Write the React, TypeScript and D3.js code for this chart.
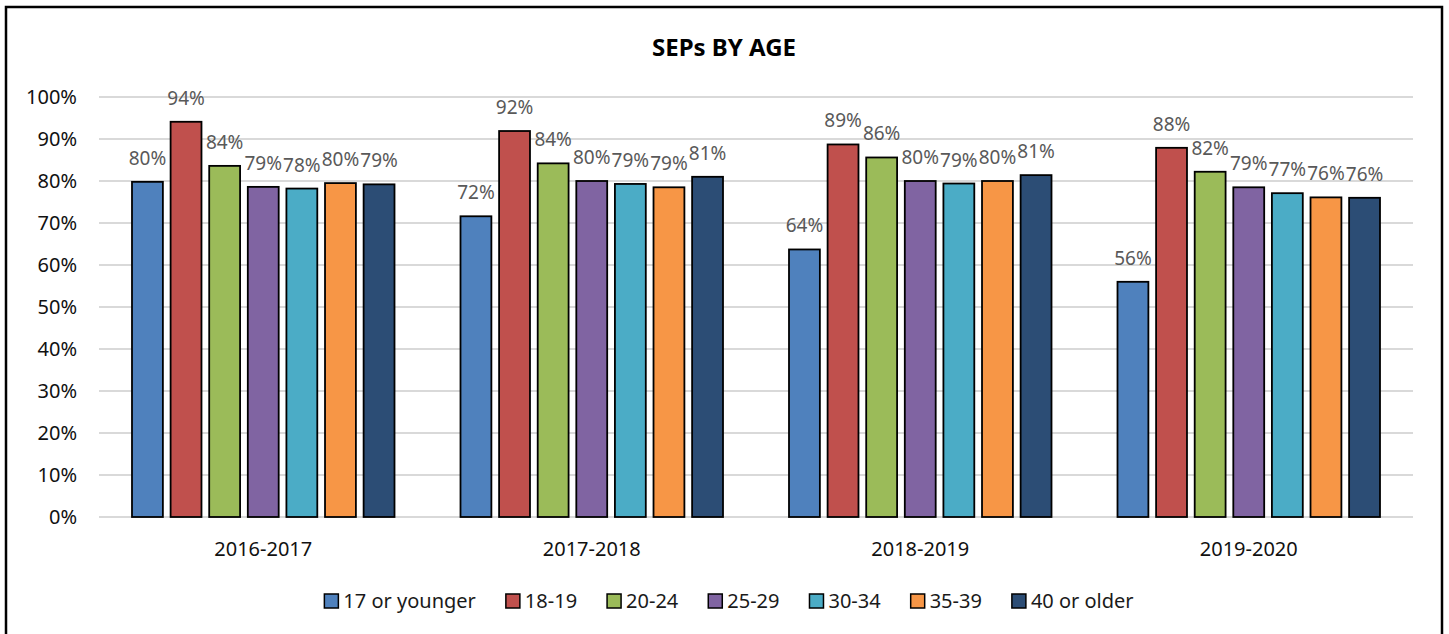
import React, { useEffect, useRef } from "react";
import * as d3 from "d3";

const years = ["2016-2017", "2017-2018", "2018-2019", "2019-2020"];
const seriesNames = ["17 or younger", "18-19", "20-24", "25-29", "30-34", "35-39", "40 or older"];
const seriesColors = ["#4F81BD", "#C0504D", "#9BBB59", "#8064A2", "#4BACC6", "#F79646", "#2C4D75"];
// values per series, one per year (fractions)
const v17 = [0.798, 0.716, 0.637, 0.56];
const v1819 = [0.941, 0.919, 0.887, 0.879];
const v2024 = [0.836, 0.842, 0.856, 0.822];
const v2529 = [0.786, 0.8, 0.8, 0.785];
const v3034 = [0.782, 0.793, 0.794, 0.771];
const v3539 = [0.795, 0.785, 0.8, 0.761];
const v40 = [0.792, 0.81, 0.814, 0.76];
const seriesValues = [v17, v1819, v2024, v2529, v3034, v3539, v40];
const yTicks = [0, 0.1, 0.2, 0.3, 0.4, 0.5, 0.6, 0.7, 0.8, 0.9, 1.0];
const title = "SEPs BY AGE";

const W = 1449;
const H = 634;
const FONT = "'Noto Sans', 'DejaVu Sans', sans-serif";

export default function App() {
  const legendRef = useRef<SVGGElement | null>(null);

  const x0 = d3.scaleBand<string>().domain(years).range([99, 1413]).paddingInner(0).paddingOuter(0);
  const bw = x0.bandwidth();
  const x1 = d3
    .scaleBand<string>()
    .domain(seriesNames)
    .range([33, bw - 33])
    .paddingInner(0.2)
    .paddingOuter(0);
  const y = d3.scaleLinear().domain([0, 1]).range([517, 97]);
  const pct = d3.format(".0%");

  useEffect(() => {
    const g = d3.select(legendRef.current);
    if (!g.node()) return;
    g.selectAll("*").remove();
    const sq = 14;
    const gapText = 5;
    const gapItem = 30;
    const items = g
      .selectAll("g.item")
      .data(seriesNames)
      .enter()
      .append("g")
      .attr("class", "item");
    items
      .append("rect")
      .attr("width", sq)
      .attr("height", sq)
      .attr("y", -sq / 2)
      .attr("fill", (_d, i) => seriesColors[i])
      .attr("stroke", "#000")
      .attr("stroke-width", 1.5);
    items
      .append("text")
      .attr("x", sq + gapText)
      .attr("y", 7)
      .attr("font-family", FONT)
      .attr("font-size", 20)
      .attr("fill", "#1a1a1a")
      .text((d) => d);
    const widths: number[] = [];
    items.each(function () {
      const t = d3.select(this).select("text").node() as SVGTextElement;
      widths.push(sq + gapText + t.getComputedTextLength());
    });
    const total = d3.sum(widths) + gapItem * (widths.length - 1);
    let cx = 729 - total / 2;
    items.attr("transform", (_d, i) => {
      const tx = cx;
      cx += widths[i] + gapItem;
      return `translate(${tx},601)`;
    });
  }, []);

  return (
    <svg
      width={W}
      height={H}
      style={{ position: "absolute", left: 0, top: 0, background: "#fff" }}
      xmlns="http://www.w3.org/2000/svg"
    >
      <rect x={0} y={0} width={W} height={H} fill="#fff" />
      <rect x={6} y={7} width={1436} height={640} fill="none" stroke="#000" strokeWidth={2.5} />
      <text
        x={724}
        y={56}
        textAnchor="middle"
        fontFamily={FONT}
        fontWeight="bold"
        fontSize={24}
        fill="#000"
      >
        {title}
      </text>
      {yTicks.map((t) => (
        <g key={t}>
          <line x1={99} x2={1413} y1={y(t)} y2={y(t)} stroke="#D9D9D9" strokeWidth={2} />
          <text
            x={77}
            y={y(t) + 7}
            textAnchor="end"
            fontFamily={FONT}
            fontSize={20}
            fill="#111"
          >
            {pct(t)}
          </text>
        </g>
      ))}
      {years.map((yr, yi) => (
        <g key={yr} transform={`translate(${x0(yr)},0)`}>
          {seriesNames.map((s, si) => {
            const v = seriesValues[si][yi];
            const bx = x1(s) as number;
            return (
              <g key={s}>
                <rect
                  x={bx}
                  y={y(v)}
                  width={x1.bandwidth()}
                  height={y(0) - y(v)}
                  fill={seriesColors[si]}
                  stroke="#000"
                  strokeWidth={1.8}
                />
                <text
                  x={bx + x1.bandwidth() / 2}
                  y={y(v) - 17}
                  textAnchor="middle"
                  fontFamily={FONT}
                  fontSize={19}
                  fill="#595959"
                >
                  {pct(v)}
                </text>
              </g>
            );
          })}
          <text
            x={bw / 2}
            y={556}
            textAnchor="middle"
            fontFamily={FONT}
            fontSize={20}
            fill="#111"
          >
            {yr}
          </text>
        </g>
      ))}
      <g ref={legendRef} />
    </svg>
  );
}
